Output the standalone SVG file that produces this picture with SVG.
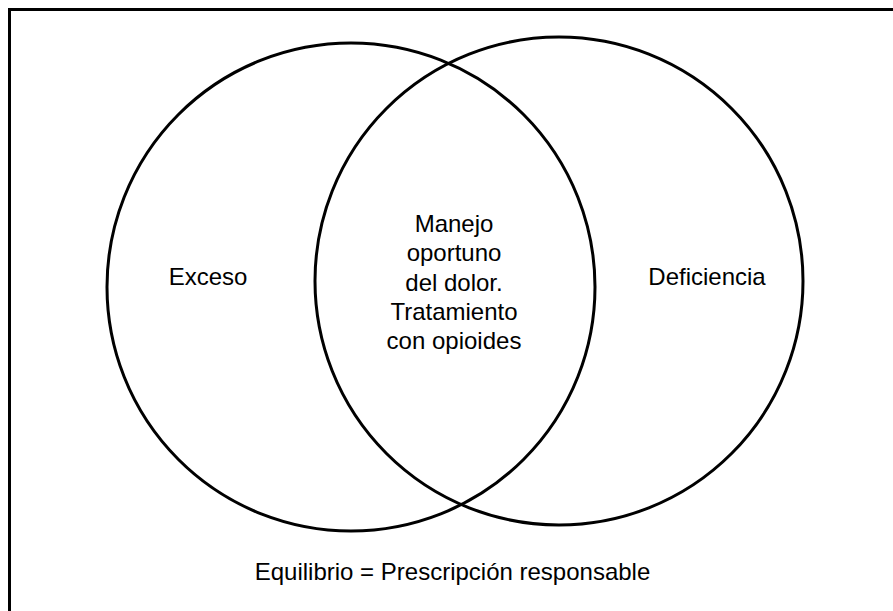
<svg xmlns="http://www.w3.org/2000/svg" width="893" height="611" viewBox="0 0 893 611">
<style>
.c{fill:none;stroke:#000;stroke-width:3}
text{font-family:"Liberation Sans",Arial,sans-serif;font-size:24px;fill:#000;text-anchor:middle}
</style>
<rect x="0" y="0" width="893" height="611" fill="#fff"/>
<rect x="9.5" y="9.5" width="900" height="620" fill="none" stroke="#000" stroke-width="3"/>
<g id="exceso">
<circle class="c" cx="351" cy="287" r="244"/>
<text x="208" y="285">Exceso</text>
</g>
<g id="deficiencia">
<circle class="c" cx="559" cy="281" r="244"/>
<text x="707" y="285">Deficiencia</text>
</g>
<g id="centro">
<text x="454" y="232">Manejo</text>
<text x="454" y="261">oportuno</text>
<text x="454" y="290.5">del dolor.</text>
<text x="454" y="320">Tratamiento</text>
<text x="454" y="349">con opioides</text>
</g>
<g id="equilibrio">
<text x="452.5" y="580">Equilibrio = Prescripción responsable</text>
</g>
<g id="connectors"></g>
</svg>
